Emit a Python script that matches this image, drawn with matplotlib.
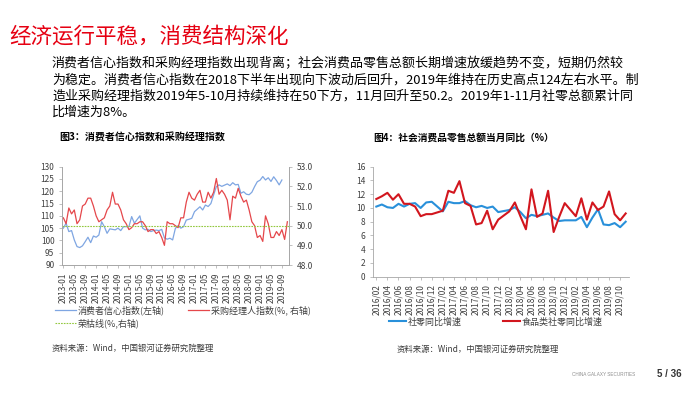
import matplotlib
matplotlib.use("Agg")
import matplotlib.pyplot as plt
from matplotlib.ticker import FormatStrFormatter

plt.rcParams['font.family'] = ['Noto Sans CJK SC', 'DejaVu Sans']

# ---------- 数据：图3 ----------
months_l = [f"{y}-{m:02d}" for y in range(2013, 2020) for m in range(1, 13)][:83]  # 2013-01 .. 2019-11
cci = [105.0, 107.0, 103.6, 104.0, 100.2, 97.5, 97.1, 97.8, 99.5, 101.3, 99.1, 101.8,
       101.3, 102.2, 107.6, 105.6, 102.9, 104.7, 104.5, 104.3, 105.0, 104.0, 105.6, 105.6,
       105.6, 109.7, 107.0, 108.5, 110.0, 105.0, 104.3, 104.5, 103.6, 104.0, 104.2, 104.0,
       104.5, 101.0, 100.5, 100.9, 100.2, 104.9, 106.0, 105.0, 105.6, 108.3, 108.6, 109.0,
       111.7, 112.7, 113.7, 112.4, 114.4, 113.8, 115.0, 118.5, 121.9, 122.6, 122.0, 122.5,
       123.0, 122.3, 123.5, 122.6, 122.8, 119.2, 119.8, 118.8, 118.6, 119.6, 121.9, 123.9,
       124.5, 126.0, 124.6, 125.5, 124.0, 125.9, 124.4, 122.6, 124.6]
pmi = [50.4, 50.1, 50.9, 50.6, 50.8, 50.1, 50.3, 51.0, 51.1, 51.4, 51.4, 51.0,
       50.5, 50.2, 50.3, 50.4, 50.8, 51.0, 51.7, 51.1, 51.1, 50.8, 50.3, 50.1,
       49.8, 49.9, 50.1, 50.1, 50.2, 50.2, 50.0, 49.7, 49.8, 49.8, 49.6, 49.7,
       49.4, 49.0, 50.2, 50.1, 50.1, 50.0, 49.9, 50.4, 50.4, 51.2, 51.7, 51.4,
       51.3, 51.6, 51.8, 51.2, 51.2, 51.7, 51.4, 51.7, 52.4, 51.6, 51.8, 51.6,
       51.3, 50.3, 51.5, 51.4, 51.9, 51.5, 51.2, 51.3, 50.8, 50.2, 50.0, 49.4,
       49.5, 49.2, 50.5, 50.1, 49.4, 49.4, 49.7, 49.5, 49.8, 49.3, 50.2]
rongku = 50.0

# ---------- 数据：图4 ----------
months_r = [f"{y}/{m:02d}" for y in range(2016, 2020) for m in range(1, 13)][1:47]  # 2016/02 .. 2019/11
retail = [10.2, 10.5, 10.1, 10.0, 10.6, 10.2, 10.6, 10.7, 10.0, 10.8, 10.9,
          None, 9.5, 10.9, 10.7, 10.7, 11.0, 10.4, 10.1, 10.3, 10.0, 10.2, 9.4,
          None, 9.7, 10.1, 9.4, 8.5, 9.0, 8.8, 9.0, 9.2, 8.6, 8.1, 8.2,
          None, 8.2, 8.7, 7.2, 8.6, 9.8, 7.6, 7.5, 7.8, 7.2, 8.0]
food = [11.3, 11.7, 12.2, 11.2, 12.0, 10.6, 10.6, 10.2, 8.8, 9.1, 9.1,
        None, 9.6, 12.5, 12.2, 13.9, 10.7, 10.3, 7.6, 7.8, 9.6, 6.9, 8.3,
        None, 9.5, 10.8, 8.8, 6.9, 12.7, 8.7, 9.2, 12.5, 6.5, 8.7, 10.7,
        None, 8.8, 11.4, 8.3, 10.8, 9.7, 10.2, 12.4, 9.1, 8.2, 9.2]

W, H = 700, 394
fig = plt.figure(figsize=(W / 100, H / 100), dpi=100)
fig.patch.set_facecolor('white')

def fx(px):
    return px / W

def fy(py):
    return 1 - py / H

# 标题与正文
fig.text(fx(9), fy(37), "经济运行平稳，消费结构深化", color='#E60012', fontsize=15.5,
         va='center', ha='left')
body = ["消费者信心指数和采购经理指数出现背离；社会消费品零售总额长期增速放缓趋势不变，短期仍然较",
        "为稳定。消费者信心指数在2018下半年出现向下波动后回升，2019年维持在历史高点124左右水平。制",
        "造业采购经理指数2019年5-10月持续维持在50下方，11月回升至50.2。2019年1-11月社零总额累计同",
        "比增速为8%。"]
for i, line in enumerate(body):
    fig.text(fx(52), fy(64 + 16.2 * i), line, fontsize=9.35, va='center', ha='left',
             fontweight='medium', color='black')

GRAY = '#A6A6A6'
TXT = '#404040'

# ---------- 图3 ----------
fig.text(fx(59), fy(138), "图3：消费者信心指数和采购经理指数", fontsize=7.2,
         fontweight='bold', va='center')
ax = fig.add_axes([fx(62), fy(265), fx(289) - fx(62), fy(166.7) - fy(265)])
xl = list(range(len(months_l)))
l1, = ax.plot(xl[:len(cci)], cci, color='#7FA6E2', lw=0.9)
ax.set_ylim(90, 130)
ax.set_yticks(range(90, 131, 5))
ax.set_xlim(-0.5, 82.6)
ax.set_xticks(xl[::4])
ax.set_xticklabels(months_l[::4], rotation=90, fontsize=5.3, color=TXT)
ax2 = ax.twinx()
l2, = ax2.plot(xl, pmi, color='#E5474B', lw=0.9)
l3 = ax2.axhline(rongku, color='#92C83E', lw=0.8, ls=(0, (1.5, 1)))
ax2.set_ylim(48, 53)
ax2.set_yticks([48, 49, 50, 51, 52, 53])
ax2.yaxis.set_major_formatter(FormatStrFormatter('%.1f'))
for a in (ax, ax2):
    a.tick_params(labelsize=6, colors=TXT, length=2, width=0.5)
    a.tick_params(axis='both', color=GRAY)
    a.spines['top'].set_visible(False)
    for s in a.spines.values():
        s.set_color(GRAY)
        s.set_linewidth(0.6)
fig.legend([l1, l3, l2], ["消费者信心指数(左轴)", "荣枯线(%,右轴)", "采购经理人指数(%, 右轴)"],
           ncol=2, loc='upper left', bbox_to_anchor=(fx(55), fy(305)), frameon=False,
           fontsize=6.5, handlelength=2.3, handletextpad=0.2, columnspacing=2.6,
           labelspacing=0.45, borderpad=0, borderaxespad=0, labelcolor=TXT)
fig.text(fx(52), fy(348), "资料来源：Wind，中国银河证券研究院整理", fontsize=6,
         style='italic', color='#3A3A3A', va='center')

# ---------- 图4 ----------
fig.text(fx(373), fy(138), "图4：社会消费品零售总额当月同比（%）", fontsize=7,
         fontweight='bold', va='center')
bx = fig.add_axes([fx(373), fy(276.7), fx(629) - fx(373), fy(166.7) - fy(276.7)])
xr_b = [i for i, v in enumerate(retail) if v is not None]
xr_r = [i for i, v in enumerate(food) if v is not None]
m1, = bx.plot(xr_b, [retail[i] for i in xr_b], color='#2990DA', lw=1.5)
m2, = bx.plot(xr_r, [food[i] for i in xr_r], color='#D2161E', lw=1.5)
bx.set_ylim(0, 16)
bx.set_yticks(range(0, 17, 2))
bx.set_xlim(-0.6, 45.6)
bx.set_xticks(range(0, len(months_r), 2))
bx.set_xticklabels(months_r[::2], rotation=90, fontsize=5.2, color=TXT)
bx.tick_params(labelsize=6, colors=TXT, length=2, width=0.5)
bx.tick_params(axis='both', color=GRAY)
for s in ['top', 'right']:
    bx.spines[s].set_visible(False)
for s in ['left', 'bottom']:
    bx.spines[s].set_color(GRAY)
    bx.spines[s].set_linewidth(0.6)
fig.legend([m1, m2], ["社零同比增速", "食品类社零同比增速"], ncol=2, loc='center left',
           bbox_to_anchor=(fx(389), fy(322)), frameon=False, fontsize=6.5,
           handlelength=1.9, handletextpad=0.15, columnspacing=4.6, borderpad=0,
           borderaxespad=0, labelcolor=TXT)
fig.text(fx(397), fy(349), "资料来源：Wind，中国银河证券研究院整理", fontsize=6,
         style='italic', color='#3A3A3A', va='center')

# 页脚
fig.text(fx(572), fy(374), "CHINA GALAXY SECURITIES", fontsize=3.3, color='#8C8C8C',
         va='center', family=['Liberation Sans'])
fig.text(fx(657), fy(374), "5 / 36", fontsize=7, fontweight='bold', color='#333333',
         va='center', family=['Liberation Sans'])

fig.savefig('out.png', dpi=100, facecolor='white')
